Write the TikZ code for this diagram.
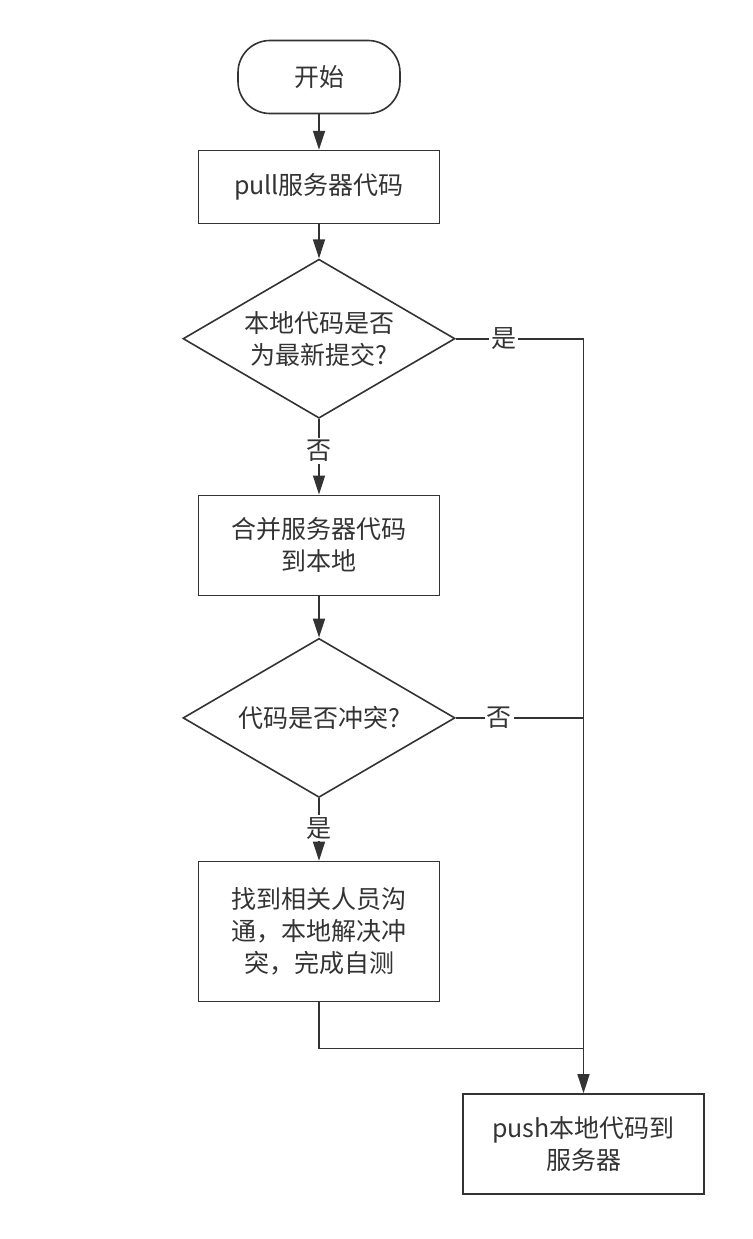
\documentclass[tikz,border=0pt]{standalone}
\usepackage{fontspec}
\setmainfont{Noto Sans CJK SC}
\usetikzlibrary{arrows.meta,positioning,calc,shapes.geometric}
\definecolor{ink}{HTML}{333333}

\begin{document}
\begin{tikzpicture}[x=1pt,y=1pt,font=\fontsize{25pt}{32pt}\selectfont,>={Triangle[length=19pt,width=12pt]},
 box/.style={draw=ink,line width=1.6pt,text=ink,minimum width=241pt,align=center,inner sep=0pt},
 terminal/.style={box,rounded corners=32pt,minimum width=162pt,minimum height=73pt},
 decide/.style={draw=ink,line width=1.6pt,text=ink,diamond,aspect=1.71,minimum width=272pt,minimum height=159pt,inner sep=0pt,align=center},
 flow/.style={->,line width=1.6pt,draw=ink},
 link/.style={line width=1.6pt,draw=ink},
 tag/.style={fill=white,text=ink,inner sep=2pt}]
\useasboundingbox (0,0) rectangle (752,-1239);
\node[terminal] (start) at (319,-77) {开始};
\node[box,minimum height=73pt,below=35.5pt of start] (pull) {pull服务器代码};
\node[decide,below=34pt of pull] (latest) {本地代码是否\\为最新提交?};
\node[box,minimum height=100pt,below=75.5pt of latest] (merge) {合并服务器代码\\到本地};
\node[decide,below=41.5pt of merge] (clash) {代码是否冲突?};
\node[box,minimum height=140pt,below=62.5pt of clash] (resolve) {找到相关人员沟\\通，本地解决冲\\突，完成自测};
\node[box,minimum height=100pt] (push) at (583.5,-1144) {push本地代码到\\服务器};
\foreach \a/\b in {start/pull,pull/latest,merge/clash} \draw[flow] (\a.south)--(\b.north);
\draw[flow] (latest.south)--node[tag,pos=0.42]{否}(merge.north);
\draw[flow] (clash.south)--node[tag,pos=0.48]{是}(resolve.north);
\draw[flow] (latest.east)--node[tag,pos=0.375]{是}(latest.east-|push.north)--(push.north);
\draw[link] (clash.east)--node[tag,pos=0.34]{否}(clash.east-|push.north);
\coordinate (turn) at ($(resolve.south)+(0,-46pt)$);
\draw[link] (resolve.south)--(turn)--(turn-|push.north);
\end{tikzpicture}
\end{document}
